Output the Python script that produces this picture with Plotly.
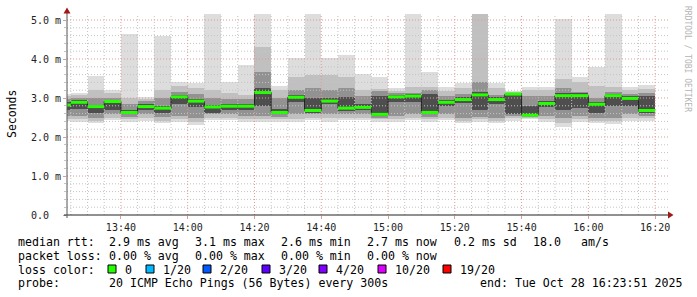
import plotly.graph_objects as go
import pandas as pd

# ---------------- data ----------------
bar_start = pd.date_range("2025-10-28 13:20", periods=36, freq="5min")

median = [2.82, 2.89, 2.78, 2.91, 2.63, 2.78, 2.74, 3.03, 2.92, 2.77, 2.79, 2.79,
          3.14, 2.63, 3.02, 2.68, 2.92, 2.74, 2.76, 2.58, 3.03, 3.05, 2.63, 2.89,
          2.96, 3.08, 2.96, 3.10, 2.56, 2.86, 3.06, 3.06, 2.84, 3.06, 2.99, 2.68]
ping_max = [3.10, 3.12, 3.56, 3.20, 4.64, 3.03, 4.60, 3.42, 3.38, 5.40, 3.42, 3.85,
            5.40, 3.31, 4.02, 5.40, 4.02, 4.10, 3.61, 3.55, 3.25, 5.40, 3.66, 3.27,
            3.38, 5.40, 3.38, 3.18, 3.27, 3.27, 5.03, 3.55, 3.79, 5.40, 3.27, 3.33]
ping_min = [2.40, 2.38, 2.36, 2.44, 2.39, 2.42, 2.36, 2.39, 2.31, 2.44, 2.44, 2.39,
            2.39, 2.39, 2.39, 2.44, 2.39, 2.44, 2.44, 2.39, 2.39, 2.44, 2.39, 2.44,
            2.36, 2.39, 2.36, 2.41, 2.46, 2.39, 2.26, 2.39, 2.36, 2.34, 2.41, 2.41]
ping_hi2 = [3.05, 3.08, 3.20, 3.12, 3.00, 2.98, 3.20, 3.30, 3.25, 3.20, 3.12, 3.07,
            4.31, 3.20, 3.55, 3.59, 3.59, 3.55, 3.20, 3.23, 3.18, 3.27, 3.28, 3.18,
            3.25, 5.40, 3.25, 3.15, 3.20, 3.20, 3.50, 3.40, 3.30, 3.28, 3.20, 3.22]
ping_lo2 = [2.45, 2.45, 2.42, 2.50, 2.45, 2.48, 2.42, 2.45, 2.38, 2.50, 2.50, 2.45,
            2.45, 2.45, 2.45, 2.50, 2.48, 2.50, 2.50, 2.45, 2.45, 2.50, 2.45, 2.50,
            2.42, 2.45, 2.42, 2.48, 2.50, 2.45, 2.35, 2.45, 2.42, 2.40, 2.48, 2.48]
ping_hi3 = [2.98, 3.00, 3.00, 3.00, 2.85, 2.92, 3.00, 3.15, 3.10, 3.00, 2.98, 2.98,
            3.67, 3.00, 3.20, 3.25, 3.20, 3.25, 3.05, 3.18, 3.12, 3.12, 3.20, 3.05,
            3.10, 3.40, 3.08, 3.12, 3.05, 3.05, 3.25, 3.15, 3.00, 3.15, 3.10, 3.12]
ping_lo3 = [2.55, 2.55, 2.50, 2.58, 2.52, 2.58, 2.52, 2.55, 2.50, 2.58, 2.58, 2.55,
            2.55, 2.52, 2.60, 2.60, 2.60, 2.58, 2.58, 2.50, 2.55, 2.58, 2.52, 2.60,
            2.50, 2.52, 2.50, 2.55, 2.52, 2.55, 2.50, 2.55, 2.50, 2.50, 2.58, 2.55]
ping_hi4 = [2.90, 2.95, 2.82, 2.94, 2.70, 2.84, 2.80, 3.08, 2.98, 2.82, 2.84, 2.84,
            3.25, 2.72, 3.08, 3.00, 3.00, 3.02, 2.85, 3.05, 3.08, 3.10, 3.10, 2.95,
            3.02, 3.15, 3.02, 3.12, 2.80, 2.92, 3.12, 3.12, 2.90, 3.10, 3.05, 3.05]
ping_lo4 = [2.70, 2.72, 2.62, 2.70, 2.58, 2.70, 2.62, 2.85, 2.78, 2.62, 2.70, 2.68,
            2.80, 2.58, 2.90, 2.62, 2.85, 2.66, 2.68, 2.53, 2.90, 2.90, 2.58, 2.80,
            2.88, 2.70, 2.85, 2.60, 2.53, 2.78, 2.70, 2.75, 2.62, 2.80, 2.80, 2.62]

y_ticks = [0, 1, 2, 3, 4, 5]
y_ticktext = ["0.0\u00a0\u00a0", "1.0 m", "2.0 m", "3.0 m", "4.0 m", "5.0 m"]

loss_labels = ["0", "1/20", "2/20", "3/20", "4/20", "10/20", "19/20"]
loss_colors = ["#26ff00", "#00b8ff", "#0059ff", "#5e00ff", "#7e00ff", "#dd00ff", "#ff0000"]

legend_rows = [
    ["median rtt:", "2.9 ms avg", "3.1 ms max", "2.6 ms min", "2.7 ms now", "0.2 ms sd", "18.0", "am/s"],
    ["packet loss:", "0.00 % avg", "0.00 % max", "0.00 % min", "0.00 % now"],
    ["probe:", "20 ICMP Echo Pings (56 Bytes) every 300s", "end: Tue Oct 28 16:23:51 2025"],
]

# ---------------- layout helpers ----------------
W, H = 697, 297
L, R, T, B = 67, 29, 14, 82
PW, PH = W - L - R, H - T - B
YMAX = 5.154
t0 = pd.Timestamp("2025-10-28 13:23:51")
t1 = pd.Timestamp("2025-10-28 16:23:51")
step = pd.Timedelta("5min")


def PX(x):
    return (x - L) / PW


def PY(y):
    return (T + PH - y) / PH


fig = go.Figure()

# smoke layers
centers = bar_start + step / 2
layers = [
    (ping_min, ping_max, "#dddddd"),
    (ping_lo2, ping_hi2, "#c0c0c0"),
    (ping_lo3, ping_hi3, "#929292"),
    (ping_lo4, ping_hi4, "#4e4e4e"),
]
for lo, hi, col in layers:
    fig.add_trace(go.Bar(
        x=centers, base=lo, y=[h - l for h, l in zip(hi, lo)],
        width=step.total_seconds() * 1000, marker=dict(color=col, line=dict(width=0)),
        hoverinfo="skip", showlegend=False))

# grid (drawn over smoke)
def grid_trace(xs, ys, color):
    fig.add_trace(go.Scatter(x=xs, y=ys, mode="lines", hoverinfo="skip", showlegend=False,
                             line=dict(color=color, width=1, dash="1px,2px")))

minor_t = pd.date_range("2025-10-28 13:25", "2025-10-28 16:20", freq="5min")
major_t = [t for t in minor_t if t.minute % 20 == 0]
minor_t = [t for t in minor_t if t.minute % 20 != 0]
xs, ys = [], []
for t in minor_t:
    xs += [t, t, None]; ys += [0, YMAX, None]
for i in range(1, 26):
    v = i * 0.2
    if i % 5:
        xs += [t0, t1, None]; ys += [v, v, None]
grid_trace(xs, ys, "#c4c4c4")
xs, ys = [], []
for t in major_t:
    xs += [t, t, None]; ys += [0, YMAX, None]
for v in y_ticks[1:]:
    xs += [t0, t1, None]; ys += [v, v, None]
grid_trace(xs, ys, "#e09a9a")

# median step line
fig.add_trace(go.Scatter(
    x=list(bar_start) + [bar_start[-1] + step], y=median + [median[-1]],
    mode="lines", line=dict(color="#202020", width=1, shape="hv"),
    hoverinfo="skip", showlegend=False))
gx, gy = [], []
for s, m in zip(bar_start, median):
    gx += [s, s + step, None]; gy += [m, m, None]
fig.add_trace(go.Scatter(x=gx, y=gy, mode="lines", line=dict(color=loss_colors[0], width=3),
                         hoverinfo="skip", showlegend=False))

mono = "DejaVu Sans Mono"
fig.update_layout(
    width=W, height=H, margin=dict(l=L, r=R, t=T, b=B),
    paper_bgcolor="white", plot_bgcolor="white", barmode="overlay", bargap=0,
    showlegend=False, font=dict(family=mono, size=10, color="#222"),
    xaxis=dict(type="date", range=[t0, t1], tickvals=major_t, tickformat="%H:%M",
               showgrid=False, zeroline=False, showline=False, ticks="outside",
               ticklen=3, tickcolor="#e09a9a", tickfont=dict(family=mono, size=10, color="#222")),
    yaxis=dict(range=[0, YMAX], tickvals=y_ticks, ticktext=y_ticktext, showgrid=False,
               zeroline=False, showline=False, ticks="outside", ticklen=3, tickcolor="#e09a9a",
               tickfont=dict(family=mono, size=10, color="#222"),
               minor=dict(dtick=0.2, ticks="outside", ticklen=2, tickcolor="#c4c4c4", showgrid=False)),
)

shapes = []
# axes with arrows
shapes.append(dict(type="line", xref="paper", yref="paper", x0=PX(64), x1=PX(670), y0=0, y1=0,
                   line=dict(color="#222", width=1)))
shapes.append(dict(type="line", xref="paper", yref="paper", x0=0, x1=0, y0=PY(218), y1=PY(11),
                   line=dict(color="#555", width=1)))
shapes.append(dict(type="path", xref="paper", yref="paper", fillcolor="#a01818", line=dict(width=0),
                   path=f"M {PX(668)} {PY(211.5)} L {PX(673.5)} {PY(215)} L {PX(668)} {PY(218.5)} Z"))
shapes.append(dict(type="path", xref="paper", yref="paper", fillcolor="#a01818", line=dict(width=0),
                   path=f"M {PX(63.5)} {PY(13.5)} L {PX(67)} {PY(7.5)} L {PX(70.5)} {PY(13.5)} Z"))

annotations = []
row_x = [
    [16, 107, 193, 279, 365, 452, 531, 579],
    [16, 107, 193, 279, 365],
    [16, 107, 478],
]
row_y = [241.5, 255.5, 283]
for texts, xs_, yy in zip(legend_rows, row_x, row_y):
    for txt, xx in zip(texts, xs_):
        annotations.append(dict(text=txt, x=PX(xx), y=PY(yy), xref="paper", yref="paper",
                                xanchor="left", yanchor="middle", showarrow=False,
                                font=dict(family=mono, size=11.6, color="#000")))
# loss color row
annotations.append(dict(text="loss color:", x=PX(16), y=PY(269.5), xref="paper", yref="paper",
                        xanchor="left", yanchor="middle", showarrow=False,
                        font=dict(family=mono, size=11.6, color="#000")))
box_x = [108, 146, 203, 262, 319, 378, 443]
for lab, col, bx in zip(loss_labels, loss_colors, box_x):
    shapes.append(dict(type="rect", xref="paper", yref="paper", x0=PX(bx), x1=PX(bx + 8),
                       y0=PY(273), y1=PY(265), fillcolor=col, line=dict(color="#000", width=1)))
    annotations.append(dict(text=lab, x=PX(bx + 15), y=PY(269.5), xref="paper", yref="paper",
                            xanchor="left", yanchor="middle", showarrow=False,
                            font=dict(family=mono, size=11.6, color="#000")))
# y title
annotations.append(dict(text="Seconds", x=PX(12), y=PY(114), xref="paper", yref="paper",
                        xanchor="center", yanchor="middle", textangle=-90, showarrow=False,
                        font=dict(family=mono, size=11.5, color="#000")))
# watermark
annotations.append(dict(text="RRDTOOL / TOBI OETIKER", x=PX(687), y=PY(59), xref="paper", yref="paper",
                        xanchor="center", yanchor="middle", textangle=90, showarrow=False,
                        font=dict(family=mono, size=8, color="#b4b4b4")))

fig.update_layout(shapes=shapes, annotations=annotations)
fig.write_html("out.html")
